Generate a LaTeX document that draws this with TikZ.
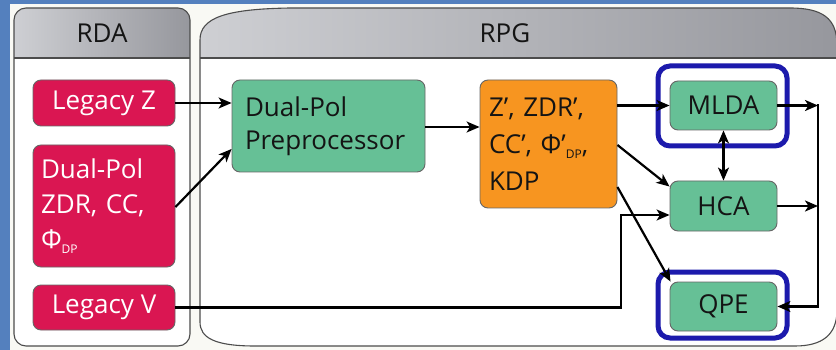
\documentclass[tikz,border=0pt]{standalone}
\usepackage{fontspec}
\setmainfont{Open Sans}
\usetikzlibrary{arrows.meta,calc}
\definecolor{bgblue}{RGB}{84,128,190}
\definecolor{cream}{RGB}{249,249,244}
\definecolor{hdrL}{RGB}{206,207,211}
\definecolor{hdrR}{RGB}{150,151,157}
\definecolor{rdared}{RGB}{218,22,82}
\definecolor{boxgreen}{RGB}{102,192,150}
\definecolor{boxorange}{RGB}{247,149,32}
\definecolor{frameblue}{RGB}{28,26,172}
\definecolor{txt}{RGB}{20,20,20}
\newcommand{\sbdp}{{\fontsize{12}{12}\selectfont\raisebox{-5pt}{DP}}}
\tikzset{
  panel/.style={draw=black!70, line width=1.1pt},
  hdr/.style={font=\fontsize{26}{30}\selectfont, text=txt},
  box/.style={rounded corners=8pt, draw=black!60, line width=0.9pt, inner sep=0pt},
  redbox/.style={box, fill=rdared, text=white, font=\fontsize{26}{35}\selectfont},
  greenbox/.style={box, fill=boxgreen, text=txt, font=\fontsize{26}{33}\selectfont},
  orangebox/.style={box, fill=boxorange, text=txt, font=\fontsize{26}{37}\selectfont},
  hilite/.style={draw=frameblue, line width=5pt, rounded corners=12pt},
  tip/.style={},
  arr/.style={line width=2.2pt, -{Stealth[length=13pt,width=11pt,inset=3.5pt]}},
  darr/.style={line width=2.2pt, {Stealth[length=13pt,width=11pt,inset=3.5pt]}-{Stealth[length=13pt,width=11pt,inset=3.5pt]}}
}
\begin{document}
\begin{tikzpicture}[x=1pt,y=-1pt]
\useasboundingbox (0,0) rectangle (836,350);
\clip (0,0) rectangle (836,350);
\fill[bgblue] (0,0) rectangle (836,350);
\fill[cream] (10,4) rectangle (840,354);

% RDA panel
\begin{scope}
  \clip[rounded corners=12pt] (14,8) rectangle (190,346);
  \fill[white] (14,8) rectangle (190,346);
  \shade[left color=hdrL, right color=hdrR] (14,8) rectangle (190,58);
\end{scope}
\draw[panel, rounded corners=12pt] (14,8) rectangle (190,346);
\draw[panel] (14,58) -- (190,58);

% RPG panel
\begin{scope}
  \clip (200,58) -- (200,40) .. controls (200,18) and (225,9) .. (290,8) -- (790,8) .. controls (822,8) and (837,18) .. (837,45) -- (837,310) .. controls (837,335) and (822,346) .. (795,346) -- (255,346) .. controls (215,346) and (200,338) .. (200,322) -- cycle;
  \fill[white] (190,0) rectangle (840,350);
  \shade[left color=hdrL, right color=hdrR] (200,0) rectangle (840,58);
\end{scope}
\draw[panel] (200,58) -- (200,40) .. controls (200,18) and (225,9) .. (290,8) -- (790,8) .. controls (822,8) and (837,18) .. (837,45) -- (837,310) .. controls (837,335) and (822,346) .. (795,346) -- (255,346) .. controls (215,346) and (200,338) .. (200,322) -- cycle;
\draw[panel] (200,58) -- (837,58);

\node[hdr] (rdaT) at (102,33) {RDA};
\node[hdr] (rpgT) at (505,33) {RPG};

% RDA boxes
\node[redbox, minimum width=142pt, minimum height=46pt] (lz) at (104,103) {Legacy Z};
\node[redbox, minimum width=142pt, minimum height=122pt, text width=126pt, align=left] (dp) at (104,206)
  {Dual-Pol\\ZDR, CC,\\Φ\sbdp};
\node[redbox, minimum width=142pt, minimum height=45pt] (lv) at (104,307.5) {Legacy V};

% RPG boxes
\node[greenbox, minimum width=193pt, minimum height=92pt, text width=167pt, align=left] (pre) at (328.5,126)
  {Dual-Pol\\Preprocessor};
\node[orangebox, minimum width=137pt, minimum height=128pt, text width=119pt, align=left] (orb) at (548.5,144)
  {Z’, ZDR’,\\CC’, Φ’\sbdp,\\KDP};
\node[greenbox, minimum width=107pt, minimum height=49pt] (mlda) at (723.5,105.5) {MLDA};
\node[greenbox, minimum width=107pt, minimum height=50pt] (hca) at (723.5,206) {HCA};
\node[greenbox, minimum width=107pt, minimum height=49pt] (qpe) at (723.5,306.5) {QPE};

% highlight frames
\draw[hilite] (658,66) rectangle (787,146);
\draw[hilite] (658,272) rectangle (787,338);

% coordinates
\coordinate (vx) at (621,0);
\coordinate (hin) at ($(hca.west)+(0,9)$);
\coordinate (bus) at (818,0);

% connectors
\draw[arr] (lz.east) -- (pre.west |- lz.east);
\draw[arr] ($(dp.east)+(0,1)$) -- ($(pre.west)+(0,23)$);
\draw[arr] (pre.east |- 0,127) -- (orb.west |- 0,127);
\draw[arr] (orb.east |- mlda.west) -- (mlda.west);
\draw[arr] ($(orb.east)+(0,1)$) -- ($(hca.north west)+(0,6)$);
\draw[arr] ($(orb.east)+(0,43)$) -- ($(qpe.north west)+(1,0)$);
\draw[arr] (lv.east) -- (lv.east -| vx) -- (vx |- hin) -- (hin);
\draw[darr] (mlda.south) -- (hca.north);
\draw[arr] (mlda.east) -- (mlda.east -| bus);
\draw[arr] (hca.east) -- (hca.east -| bus);
\draw[line width=2.2pt, -{Stealth[length=13pt,width=11pt,inset=3.5pt]}] ($(mlda.east -| bus)+(0,-1.1)$) -- (bus |- qpe.east) -- (qpe.east);
\end{tikzpicture}
\end{document}
